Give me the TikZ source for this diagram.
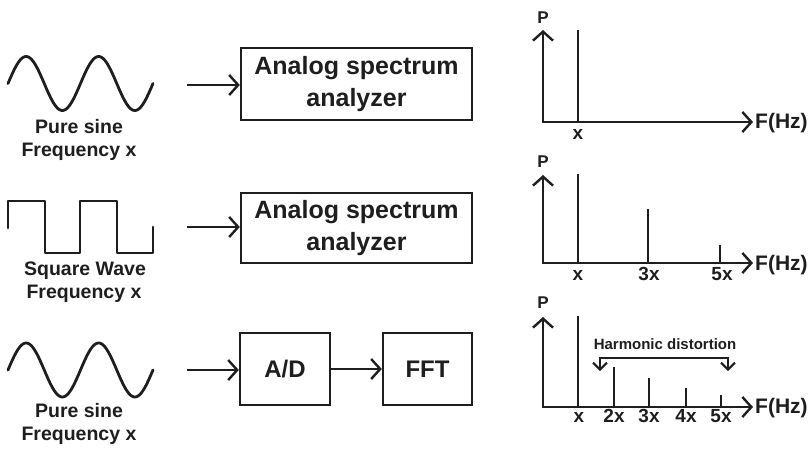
\documentclass[tikz,border=0pt]{standalone}
\usepackage{fontspec}
\setmainfont{Liberation Sans}
\usetikzlibrary{arrows.meta}
\definecolor{ink}{HTML}{1E1E1E}
\begin{document}
\begin{tikzpicture}[x=1pt,y=-1pt,
  wave/.style={draw=ink, line width=2.8pt, line join=round, line cap=round},
  box/.style={draw=ink, line width=2.4pt, align=center, inner sep=0pt, text=ink,
    font=\fontsize{25}{32}\selectfont\bfseries},
  lbl/.style={font=\fontsize{19.5}{23}\selectfont\bfseries, anchor=base, inner sep=0pt, text=ink},
  axlbl/.style={font=\fontsize{19}{23}\selectfont\bfseries, anchor=base, inner sep=0pt, text=ink},
  arr/.style={draw=ink, line width=2.4pt, -{Straight Barb[length=9pt,width=20pt,line width=2.4pt]}},
  axis/.style={draw=ink, line width=2.4pt, line join=miter,
    {Straight Barb[length=9pt,width=20pt,line width=2.4pt]}-{Straight Barb[length=9pt,width=20pt,line width=2.4pt]}},
  spec/.style={draw=ink, line width=2.8pt},
  brk/.style={draw=ink, line width=2pt,
    {Straight Barb[length=7pt,width=14pt,line width=2pt]}-{Straight Barb[length=7pt,width=14pt,line width=2pt]}}
]
\useasboundingbox (0,0) rectangle (812,448);

% ---------- Row 1 ----------
\draw[wave] plot[domain=8:153, samples=120] (\x, {83.5 - 27*sin((\x-8)/72.5*360)});
\node[lbl] (l1a) at (79,133) {Pure sine};
\node[lbl] (l1b) at (79,156) {Frequency x};
\node[box, minimum width=231pt, minimum height=72pt] (box1) at (356.5,84) {Analog spectrum\\analyzer};
\coordinate (s1) at (187,85);
\draw[arr] (s1) -- (box1.west |- s1);

% ---------- Row 2 ----------
\draw[wave] (8,228) -- (8,201) -- (45,201) -- (45,253) -- (80,253) -- (80,201)
  -- (117,201) -- (117,253) -- (153,253) -- (153,227);
\node[lbl] (l2a) at (85,275) {Square Wave};
\node[lbl] (l2b) at (84,298) {Frequency x};
\node[box, minimum width=231pt, minimum height=70pt] (box2) at (356.5,228) {Analog spectrum\\analyzer};
\coordinate (s2) at (187,227);
\draw[arr] (s2) -- (box2.west |- s2);

% ---------- Row 3 ----------
\draw[wave] plot[domain=8:153, samples=120] (\x, {370 - 27*sin((\x-8)/72.5*360)});
\node[lbl] (l3a) at (79,417) {Pure sine};
\node[lbl] (l3b) at (79,440) {Frequency x};
\node[box, minimum width=90pt, minimum height=72pt, font=\fontsize{24}{28}\selectfont\bfseries] (ad) at (285,369) {A/D};
\node[box, minimum width=89pt, minimum height=72pt, font=\fontsize{24}{28}\selectfont\bfseries] (fft) at (427.5,369) {FFT};
\coordinate (s3) at (187,370);
\draw[arr] (s3) -- (ad.west |- s3);
\draw[arr] (ad) -- (fft);

% ---------- Spectrum 1 ----------
\coordinate (o1) at (543,122);
\coordinate (p1) at (543,30);
\coordinate (f1) at (753,122);
\draw[axis] (p1) -- (o1) -- (f1);
\node[axlbl, font=\fontsize{17}{20}\selectfont\bfseries] (P1) at (543,23) {P};
\node[axlbl, anchor=base west, font=\fontsize{21}{24}\selectfont\bfseries] (F1) at (755,128) {F(Hz)};
\draw[spec] (578,122) -- (578,30);
\node[axlbl] (x1) at (578,139) {x};

% ---------- Spectrum 2 ----------
\coordinate (o2) at (543,263);
\coordinate (p2) at (543,175);
\coordinate (f2) at (753,263);
\draw[axis] (p2) -- (o2) -- (f2);
\node[axlbl, font=\fontsize{17}{20}\selectfont\bfseries] (P2) at (543,167) {P};
\node[axlbl, anchor=base west, font=\fontsize{21}{24}\selectfont\bfseries] (F2) at (755,270) {F(Hz)};
\draw[spec] (578,263) -- (578,174);
\draw[spec] (648,263) -- (648,209);
\draw[spec] (720,263) -- (720,245);
\node[axlbl] (x2a) at (578,280) {x};
\node[axlbl] (x2b) at (649,280) {3x};
\node[axlbl] (x2c) at (722,280) {5x};

% ---------- Spectrum 3 ----------
\coordinate (o3) at (543,407);
\coordinate (p3) at (543,317);
\coordinate (f3) at (753,407);
\draw[axis] (p3) -- (o3) -- (f3);
\node[axlbl, font=\fontsize{17}{20}\selectfont\bfseries] (P3) at (543,308) {P};
\node[axlbl, anchor=base west, font=\fontsize{21}{24}\selectfont\bfseries] (F3) at (755,413) {F(Hz)};
\draw[spec] (578,407) -- (578,316);
\draw[spec] (614,407) -- (614,367);
\draw[spec] (649,407) -- (649,378);
\draw[spec] (686,407) -- (686,388);
\draw[spec] (721,407) -- (721,395);
\node[axlbl] (x3a) at (579,422) {x};
\node[axlbl] (x3b) at (614,422) {2x};
\node[axlbl] (x3c) at (649,422) {3x};
\node[axlbl] (x3d) at (686,422) {4x};
\node[axlbl] (x3e) at (721,422) {5x};
\node[axlbl, font=\fontsize{15}{18}\selectfont\bfseries] (hd) at (665,349) {Harmonic distortion};
\coordinate (hl) at (600,371);
\coordinate (hr) at (728,371);
\draw[brk] (hl) -- (600,358) -- (728,358) -- (hr);
\end{tikzpicture}
\end{document}
